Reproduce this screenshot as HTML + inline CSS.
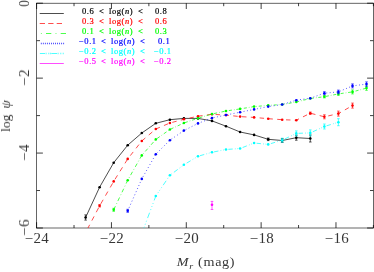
<!DOCTYPE html><html><head><meta charset="utf-8"><style>
html,body{margin:0;padding:0;background:#fff}
body{width:374px;height:272px;position:relative;overflow:hidden;font-family:"Liberation Serif",serif;color:#363636}
.t{position:absolute;white-space:pre;line-height:1;will-change:transform}
.xl{font-size:14px;letter-spacing:0.2px;transform:translateX(-50%) scaleX(1.07);top:231.8px;margin-left:0.6px}
.yl{font-size:14px;letter-spacing:0.2px;transform-origin:0 0;transform:rotate(-90deg) translateX(-50%) scaleX(1.07);left:18.0px}
.lg{font-size:8.5px;letter-spacing:0.55px;-webkit-text-stroke:0.2px currentColor}
i{font-style:italic}

</style></head><body>
<svg width="374" height="272" viewBox="0 0 374 272" style="position:absolute;left:0;top:0">
<defs><clipPath id="c"><rect x="36.6" y="3.2" width="336.8" height="224.8"/></clipPath></defs>
<g stroke="#000" stroke-width="0.6" fill="none">
<rect x="36.6" y="3.2" width="336.79999999999995" height="224.8"/>
<path stroke-width="0.75" d="M36.60 228.0v-5.8M36.60 3.2v5.8"/>
<path stroke-width="0.75" d="M74.02 228.0v-3.0M74.02 3.2v3.0"/>
<path stroke-width="0.75" d="M111.44 228.0v-5.8M111.44 3.2v5.8"/>
<path stroke-width="0.75" d="M148.87 228.0v-3.0M148.87 3.2v3.0"/>
<path stroke-width="0.75" d="M186.29 228.0v-5.8M186.29 3.2v5.8"/>
<path stroke-width="0.75" d="M223.71 228.0v-3.0M223.71 3.2v3.0"/>
<path stroke-width="0.75" d="M261.13 228.0v-5.8M261.13 3.2v5.8"/>
<path stroke-width="0.75" d="M298.56 228.0v-3.0M298.56 3.2v3.0"/>
<path stroke-width="0.75" d="M335.98 228.0v-5.8M335.98 3.2v5.8"/>
<path stroke-width="0.75" d="M373.40 228.0v-3.0M373.40 3.2v3.0"/>
<path stroke-width="0.75" d="M36.6 3.20h6.3M373.4 3.20h-6.3"/>
<path stroke-width="0.75" d="M36.6 40.67h3.4M373.4 40.67h-3.4"/>
<path stroke-width="0.75" d="M36.6 78.13h6.3M373.4 78.13h-6.3"/>
<path stroke-width="0.75" d="M36.6 115.60h3.4M373.4 115.60h-3.4"/>
<path stroke-width="0.75" d="M36.6 153.07h6.3M373.4 153.07h-6.3"/>
<path stroke-width="0.75" d="M36.6 190.53h3.4M373.4 190.53h-3.4"/>
<path stroke-width="0.75" d="M36.6 228.00h6.3M373.4 228.00h-6.3"/>
</g>
<g clip-path="url(#c)">
<polyline points="85.6,217.5 99.6,187.2 113.7,162.7 127.7,145.2 141.8,133.0 155.8,123.3 169.9,119.7 183.9,118.4 198.0,118.4 212.0,120.9 226.0,126.2 240.1,132.0 254.1,134.9 268.2,139.3 282.2,140.5 296.3,137.7 310.3,138.5" fill="none" stroke="#000000" stroke-width="0.7"/>
<circle cx="85.6" cy="217.5" r="1.3" fill="#000000"/>
<circle cx="99.6" cy="187.2" r="1.3" fill="#000000"/>
<circle cx="113.7" cy="162.7" r="1.3" fill="#000000"/>
<circle cx="127.7" cy="145.2" r="1.3" fill="#000000"/>
<circle cx="141.8" cy="133.0" r="1.3" fill="#000000"/>
<circle cx="155.8" cy="123.3" r="1.3" fill="#000000"/>
<circle cx="169.9" cy="119.7" r="1.3" fill="#000000"/>
<circle cx="183.9" cy="118.4" r="1.3" fill="#000000"/>
<circle cx="198.0" cy="118.4" r="1.3" fill="#000000"/>
<circle cx="212.0" cy="120.9" r="1.3" fill="#000000"/>
<circle cx="226.0" cy="126.2" r="1.3" fill="#000000"/>
<circle cx="240.1" cy="132.0" r="1.3" fill="#000000"/>
<circle cx="254.1" cy="134.9" r="1.3" fill="#000000"/>
<circle cx="268.2" cy="139.3" r="1.3" fill="#000000"/>
<circle cx="282.2" cy="140.5" r="1.3" fill="#000000"/>
<circle cx="296.3" cy="137.7" r="1.3" fill="#000000"/>
<circle cx="310.3" cy="138.5" r="1.3" fill="#000000"/>
<path d="M85.6 214.9V220.1M84.3 214.9h2.6M84.3 220.1h2.6" stroke="#000000" stroke-width="0.65" fill="none"/>
<path d="M268.2 138.0V140.6M266.9 138.0h2.6M266.9 140.6h2.6" stroke="#000000" stroke-width="0.65" fill="none"/>
<path d="M282.2 138.5V142.5M280.9 138.5h2.6M280.9 142.5h2.6" stroke="#000000" stroke-width="0.65" fill="none"/>
<path d="M296.3 135.2V140.2M295.0 135.2h2.6M295.0 140.2h2.6" stroke="#000000" stroke-width="0.65" fill="none"/>
<path d="M310.3 135.0V142.0M309.0 135.0h2.6M309.0 142.0h2.6" stroke="#000000" stroke-width="0.65" fill="none"/>
<path d="M87.43 229.02L89.66 224.78M91.85 220.62L94.08 216.38M96.26 212.23L98.49 207.99M100.75 203.88L103.13 199.74M105.47 195.68L107.85 191.54M110.19 187.49L112.57 183.35M114.97 179.34L117.49 175.30M119.96 171.35L122.49 167.31M124.96 163.35L127.48 159.31M130.29 155.64L133.20 151.94M136.05 148.30L138.96 144.59M141.82 140.97L145.34 137.96M148.78 135.02L152.30 132.01M155.75 129.07L155.82 129.00M155.82 129.00L159.89 127.27M163.95 125.53L168.11 123.75M172.27 122.37L176.61 121.23M180.85 120.11L183.91 119.30M183.91 119.30L185.19 119.02M189.47 118.07L193.84 117.11M198.12 116.18L202.54 115.58M206.87 114.99L211.29 114.40M215.64 114.51L220.09 114.76M224.45 115.01L226.05 115.10M226.05 115.10L228.89 115.40M233.23 115.87L237.67 116.34M242.02 116.71L246.47 116.96M250.82 117.21L254.14 117.40M254.14 117.40L255.27 117.50M259.62 117.91L264.06 118.32M268.40 118.72L272.85 119.03M277.20 119.34L281.65 119.66M286.01 119.83L290.46 119.99M294.82 120.15L296.27 120.20M296.27 120.20L299.01 118.84M302.98 116.86L307.04 114.83M311.07 113.39L315.40 114.50M319.65 115.59L323.99 116.70M328.26 115.91L332.62 114.92M336.90 113.94L338.41 113.60M338.41 113.60L340.99 112.13M344.87 109.92L348.82 107.67" fill="none" stroke="#ff0000" stroke-width="0.7"/>
<circle cx="99.6" cy="205.8" r="1.3" fill="#ff0000"/>
<circle cx="113.7" cy="181.4" r="1.3" fill="#ff0000"/>
<circle cx="127.7" cy="158.9" r="1.3" fill="#ff0000"/>
<circle cx="141.8" cy="141.0" r="1.3" fill="#ff0000"/>
<circle cx="155.8" cy="129.0" r="1.3" fill="#ff0000"/>
<circle cx="169.9" cy="123.0" r="1.3" fill="#ff0000"/>
<circle cx="183.9" cy="119.3" r="1.3" fill="#ff0000"/>
<circle cx="198.0" cy="116.2" r="1.3" fill="#ff0000"/>
<circle cx="212.0" cy="114.3" r="1.3" fill="#ff0000"/>
<circle cx="226.0" cy="115.1" r="1.3" fill="#ff0000"/>
<circle cx="240.1" cy="116.6" r="1.3" fill="#ff0000"/>
<circle cx="254.1" cy="117.4" r="1.3" fill="#ff0000"/>
<circle cx="268.2" cy="118.7" r="1.3" fill="#ff0000"/>
<circle cx="282.2" cy="119.7" r="1.3" fill="#ff0000"/>
<circle cx="296.3" cy="120.2" r="1.3" fill="#ff0000"/>
<circle cx="310.3" cy="113.2" r="1.3" fill="#ff0000"/>
<circle cx="324.4" cy="116.8" r="1.3" fill="#ff0000"/>
<circle cx="338.4" cy="113.6" r="1.3" fill="#ff0000"/>
<circle cx="352.5" cy="105.6" r="1.3" fill="#ff0000"/>
<path d="M99.6 204.6V207.0M98.3 204.6h2.6M98.3 207.0h2.6" stroke="#ff0000" stroke-width="0.65" fill="none"/>
<path d="M310.3 112.0V114.4M309.0 112.0h2.6M309.0 114.4h2.6" stroke="#ff0000" stroke-width="0.65" fill="none"/>
<path d="M324.4 114.8V118.8M323.1 114.8h2.6M323.1 118.8h2.6" stroke="#ff0000" stroke-width="0.65" fill="none"/>
<path d="M338.4 111.1V116.1M337.1 111.1h2.6M337.1 116.1h2.6" stroke="#ff0000" stroke-width="0.65" fill="none"/>
<path d="M352.5 103.1V108.1M351.2 103.1h2.6M351.2 108.1h2.6" stroke="#ff0000" stroke-width="0.65" fill="none"/>
<path d="M113.69 209.80L115.39 206.22M116.50 203.89L116.81 203.22M117.84 201.05L119.54 197.47M120.65 195.14L120.96 194.47M121.99 192.31L123.69 188.73M124.80 186.39L125.11 185.73M126.14 183.56L127.73 180.20M127.73 180.20L127.85 179.99M129.09 177.80L129.45 177.17M130.60 175.13L132.51 171.77M133.75 169.57L134.11 168.94M135.26 166.91L137.17 163.54M138.41 161.34L138.77 160.72M139.92 158.68L141.78 155.40M141.78 155.40L141.84 155.33M143.40 153.56L143.84 153.06M145.28 151.41L147.66 148.70M149.21 146.93L149.66 146.43M151.10 144.79L153.48 142.07M155.03 140.31L155.47 139.80M157.08 138.52L159.82 136.58M161.61 135.32L162.12 134.96M163.78 133.79L166.52 131.86M168.31 130.60L168.82 130.24M170.51 129.20L173.43 127.85M175.33 126.97L175.87 126.72M177.64 125.91L180.55 124.56M182.45 123.68L182.99 123.43M184.78 122.71L187.76 121.69M189.70 121.02L190.26 120.83M192.06 120.22L195.05 119.20M196.99 118.53L197.54 118.34M199.36 117.78L202.36 116.88M204.32 116.30L204.88 116.13M206.69 115.59L209.70 114.69M211.65 114.11L212.00 114.00M212.00 114.00L212.21 113.96M214.05 113.56L217.08 112.92M219.06 112.49L219.63 112.37M221.46 111.98L224.50 111.33M226.48 110.94L227.05 110.85M228.89 110.57L231.95 110.12M233.94 109.82L234.50 109.74M236.35 109.46L239.40 109.00M241.39 108.69L241.96 108.59M243.80 108.29L246.85 107.79M248.84 107.47L249.41 107.37M251.25 107.07L254.14 106.60M254.14 106.60L254.30 106.59M256.30 106.42L256.87 106.37M258.73 106.21L261.79 105.95M263.79 105.78L264.36 105.73M266.21 105.57L268.19 105.40M268.19 105.40L269.28 105.33M271.28 105.20L271.85 105.17M273.70 105.05L276.77 104.85M278.77 104.72L279.34 104.69M281.19 104.57L282.23 104.50M282.23 104.50L284.25 104.14M286.23 103.79L286.80 103.69M288.64 103.36L291.69 102.82M293.67 102.46L294.24 102.36M296.08 102.03L296.27 102.00M296.27 102.00L299.11 101.29M301.08 100.80L301.64 100.66M303.47 100.21L306.49 99.45M308.46 98.96L309.02 98.82M310.86 98.43L313.92 98.04M315.91 97.78L316.48 97.71M318.33 97.47L321.38 97.08M323.38 96.83L323.94 96.75M325.79 96.42L328.83 95.81M330.81 95.42L331.37 95.30M333.21 94.94L336.25 94.33M338.23 93.94L338.41 93.90M338.41 93.90L338.80 93.84M340.65 93.58L343.70 93.15M345.69 92.86L346.26 92.78M348.11 92.52L351.16 92.08M353.14 91.71L353.71 91.56M355.53 91.07L358.54 90.25M360.51 89.72L361.07 89.57M362.89 89.08L365.91 88.26" fill="none" stroke="#00ff00" stroke-width="0.7"/>
<circle cx="113.7" cy="209.8" r="1.3" fill="#00ff00"/>
<circle cx="127.7" cy="180.2" r="1.3" fill="#00ff00"/>
<circle cx="141.8" cy="155.4" r="1.3" fill="#00ff00"/>
<circle cx="155.8" cy="139.4" r="1.3" fill="#00ff00"/>
<circle cx="169.9" cy="129.5" r="1.3" fill="#00ff00"/>
<circle cx="183.9" cy="123.0" r="1.3" fill="#00ff00"/>
<circle cx="198.0" cy="118.2" r="1.3" fill="#00ff00"/>
<circle cx="212.0" cy="114.0" r="1.3" fill="#00ff00"/>
<circle cx="226.0" cy="111.0" r="1.3" fill="#00ff00"/>
<circle cx="240.1" cy="108.9" r="1.3" fill="#00ff00"/>
<circle cx="254.1" cy="106.6" r="1.3" fill="#00ff00"/>
<circle cx="268.2" cy="105.4" r="1.3" fill="#00ff00"/>
<circle cx="282.2" cy="104.5" r="1.3" fill="#00ff00"/>
<circle cx="296.3" cy="102.0" r="1.3" fill="#00ff00"/>
<circle cx="310.3" cy="98.5" r="1.3" fill="#00ff00"/>
<circle cx="324.4" cy="96.7" r="1.3" fill="#00ff00"/>
<circle cx="338.4" cy="93.9" r="1.3" fill="#00ff00"/>
<circle cx="352.5" cy="91.9" r="1.3" fill="#00ff00"/>
<circle cx="366.5" cy="88.1" r="1.3" fill="#00ff00"/>
<path d="M113.7 208.3V211.3M112.4 208.3h2.6M112.4 211.3h2.6" stroke="#00ff00" stroke-width="0.65" fill="none"/>
<path d="M324.4 95.5V97.9M323.1 95.5h2.6M323.1 97.9h2.6" stroke="#00ff00" stroke-width="0.65" fill="none"/>
<path d="M338.4 92.4V95.4M337.1 92.4h2.6M337.1 95.4h2.6" stroke="#00ff00" stroke-width="0.65" fill="none"/>
<path d="M352.5 89.9V93.9M351.2 89.9h2.6M351.2 93.9h2.6" stroke="#00ff00" stroke-width="0.65" fill="none"/>
<path d="M366.5 85.9V90.3M365.2 85.9h2.6M365.2 90.3h2.6" stroke="#00ff00" stroke-width="0.65" fill="none"/>
<path d="M127.73 210.80L128.10 209.98M129.11 207.69L129.47 206.86M130.48 204.58L130.84 203.75M131.85 201.46L132.21 200.64M133.22 198.35L133.58 197.53M134.59 195.24L134.95 194.42M135.96 192.13L136.32 191.31M137.33 189.02L137.69 188.19M138.70 185.91L139.06 185.08M140.07 182.79L140.43 181.97M141.44 179.68L141.78 178.90M141.78 178.90L141.80 178.86M143.04 176.69L143.48 175.91M144.72 173.73L145.16 172.95M146.40 170.78L146.84 169.99M148.08 167.82L148.52 167.04M149.76 164.87L150.21 164.08M151.44 161.91L151.89 161.13M153.12 158.95L153.57 158.17M154.80 156.00L155.25 155.22M156.77 153.26L157.41 152.62M159.18 150.86L159.81 150.22M161.58 148.46L162.22 147.82M163.99 146.06L164.63 145.42M166.40 143.66L167.04 143.02M168.81 141.26L169.45 140.62M171.44 139.13L172.18 138.62M174.25 137.21L174.99 136.70M177.05 135.29L177.80 134.78M179.86 133.37L180.60 132.86M182.67 131.45L183.41 130.95M185.59 129.74L186.40 129.33M188.62 128.19L189.42 127.78M191.65 126.64L192.45 126.23M194.67 125.09L195.47 124.68M197.70 123.53L197.96 123.40M197.96 123.40L198.52 123.18M200.86 122.29L201.70 121.96M204.03 121.07L204.87 120.74M207.21 119.85L208.05 119.52M210.38 118.63L211.22 118.30M213.63 117.65L214.51 117.47M216.95 116.94L217.83 116.76M220.28 116.23L221.16 116.05M223.60 115.52L224.48 115.34M226.93 114.82L227.81 114.65M230.26 114.16L231.15 113.98M233.60 113.50L234.48 113.32M236.93 112.83L237.81 112.65M240.27 112.17L241.15 111.99M243.60 111.50L244.48 111.33M246.93 110.84L247.82 110.66M250.27 110.17L251.15 110.00M253.60 109.51L254.14 109.40M254.14 109.40L254.49 109.33M256.94 108.84L257.82 108.67M260.27 108.18L261.15 108.00M263.61 107.51L264.49 107.34M266.94 106.85L267.82 106.67M270.29 106.28L271.18 106.15M273.66 105.78L274.55 105.65M277.02 105.28L277.91 105.15M280.38 104.78L281.27 104.64M283.69 104.05L284.55 103.79M286.94 103.06L287.80 102.79M290.20 102.06L291.06 101.80M293.45 101.07L294.31 100.80M296.71 100.14L297.60 100.01M300.08 99.66L300.97 99.53M303.44 99.18L304.34 99.05M306.81 98.70L307.70 98.57M310.18 98.22L310.32 98.20M310.32 98.20L311.03 97.95M313.39 97.11L314.23 96.81M316.59 95.97L317.44 95.67M319.79 94.83L320.64 94.53M323.00 93.69L323.84 93.39M326.30 93.02L327.20 92.94M329.69 92.71L330.59 92.62M333.07 92.39L333.97 92.31M336.46 92.08L337.36 92.00M339.74 91.33L340.56 90.98M342.86 90.00L343.69 89.64M345.99 88.66L346.82 88.31M349.12 87.33L349.94 86.97M352.24 85.99L352.46 85.90M352.46 85.90L353.12 85.81M355.60 85.50L356.49 85.38M358.97 85.06L359.86 84.95M362.34 84.63L363.24 84.52M365.72 84.20L366.50 84.10" fill="none" stroke="#0000ff" stroke-width="0.7"/>
<circle cx="127.7" cy="210.8" r="1.3" fill="#0000ff"/>
<circle cx="141.8" cy="178.9" r="1.3" fill="#0000ff"/>
<circle cx="155.8" cy="154.2" r="1.3" fill="#0000ff"/>
<circle cx="169.9" cy="140.2" r="1.3" fill="#0000ff"/>
<circle cx="183.9" cy="130.6" r="1.3" fill="#0000ff"/>
<circle cx="198.0" cy="123.4" r="1.3" fill="#0000ff"/>
<circle cx="212.0" cy="118.0" r="1.3" fill="#0000ff"/>
<circle cx="226.0" cy="115.0" r="1.3" fill="#0000ff"/>
<circle cx="240.1" cy="112.2" r="1.3" fill="#0000ff"/>
<circle cx="254.1" cy="109.4" r="1.3" fill="#0000ff"/>
<circle cx="268.2" cy="106.6" r="1.3" fill="#0000ff"/>
<circle cx="282.2" cy="104.5" r="1.3" fill="#0000ff"/>
<circle cx="296.3" cy="100.2" r="1.3" fill="#0000ff"/>
<circle cx="310.3" cy="98.2" r="1.3" fill="#0000ff"/>
<circle cx="324.4" cy="93.2" r="1.3" fill="#0000ff"/>
<circle cx="338.4" cy="91.9" r="1.3" fill="#0000ff"/>
<circle cx="352.5" cy="85.9" r="1.3" fill="#0000ff"/>
<circle cx="366.5" cy="84.1" r="1.3" fill="#0000ff"/>
<path d="M127.7 209.3V212.3M126.4 209.3h2.6M126.4 212.3h2.6" stroke="#0000ff" stroke-width="0.65" fill="none"/>
<path d="M324.4 91.7V94.7M323.1 91.7h2.6M323.1 94.7h2.6" stroke="#0000ff" stroke-width="0.65" fill="none"/>
<path d="M338.4 90.1V93.7M337.1 90.1h2.6M337.1 93.7h2.6" stroke="#0000ff" stroke-width="0.65" fill="none"/>
<path d="M352.5 83.9V87.9M351.2 83.9h2.6M351.2 87.9h2.6" stroke="#0000ff" stroke-width="0.65" fill="none"/>
<path d="M366.5 81.9V86.3M365.2 81.9h2.6M365.2 86.3h2.6" stroke="#0000ff" stroke-width="0.65" fill="none"/>
<path d="M141.78 233.60L143.00 230.34M144.00 227.67L144.33 226.78M145.13 224.64L145.46 223.75M146.26 221.62L146.59 220.73M147.58 218.06L149.58 212.72M150.58 210.05L150.91 209.17M151.70 207.03L152.04 206.14M152.83 204.01L153.17 203.12M154.16 200.45L155.82 196.00M155.82 196.00L156.32 195.27M157.81 193.08L158.31 192.34M159.50 190.59L159.99 189.86M161.18 188.10L161.68 187.37M163.17 185.18L166.14 180.79M167.63 178.60L168.13 177.87M169.32 176.11L169.82 175.38M171.33 174.21L171.97 173.73M173.89 172.30L177.72 169.43M179.64 168.00L180.28 167.52M181.81 166.37L182.45 165.89M183.99 164.76L184.65 164.35M186.65 163.14L190.64 160.73M192.64 159.52L193.31 159.12M194.90 158.15L195.57 157.75M197.17 156.78L197.83 156.38M199.96 155.73L204.23 154.51M206.37 153.90L207.08 153.70M208.79 153.22L209.50 153.01M211.21 152.53L211.92 152.32M214.08 151.89L218.40 151.02M220.56 150.59L221.28 150.45M223.01 150.11L223.73 149.96M225.45 149.62L226.05 149.50M226.05 149.50L226.18 149.49M228.35 149.34L232.71 149.03M234.89 148.87L235.62 148.82M237.36 148.69L238.09 148.64M239.83 148.52L240.09 148.50M240.09 148.50L240.54 148.33M242.64 147.50L246.83 145.86M248.93 145.04L249.63 144.77M251.31 144.11L252.01 143.83M253.69 143.18L254.14 143.00M254.14 143.00L254.40 143.03M256.57 143.24L260.93 143.68M263.10 143.89L263.83 143.97M265.57 144.14L266.29 144.21M268.03 144.39L268.19 144.40M268.19 144.40L268.75 144.23M270.88 143.59L275.14 142.32M277.28 141.68L277.99 141.47M279.69 140.96L280.40 140.75M282.11 140.24L282.23 140.20M282.23 140.20L282.80 139.92M284.86 138.93L288.97 136.94M291.03 135.94L291.72 135.61M293.36 134.81L294.05 134.48M295.70 133.68L296.27 133.40M296.27 133.40L296.39 133.40M298.57 133.32L302.93 133.16M305.11 133.09L305.84 133.06M307.58 133.00L308.31 132.97M310.06 132.91L310.32 132.90M310.32 132.90L310.76 132.70M312.83 131.76L316.97 129.87M319.04 128.92L319.73 128.61M321.39 127.86L322.08 127.54M323.74 126.79L324.37 126.50M324.37 126.50L324.43 126.48M326.56 125.83L330.82 124.52M332.95 123.87L333.66 123.65M335.36 123.13L336.07 122.92M337.78 122.39L338.41 122.20" fill="none" stroke="#00ffff" stroke-width="0.7"/>
<circle cx="155.8" cy="196.0" r="1.3" fill="#00ffff"/>
<circle cx="169.9" cy="175.3" r="1.3" fill="#00ffff"/>
<circle cx="183.9" cy="164.8" r="1.3" fill="#00ffff"/>
<circle cx="198.0" cy="156.3" r="1.3" fill="#00ffff"/>
<circle cx="212.0" cy="152.3" r="1.3" fill="#00ffff"/>
<circle cx="226.0" cy="149.5" r="1.3" fill="#00ffff"/>
<circle cx="240.1" cy="148.5" r="1.3" fill="#00ffff"/>
<circle cx="254.1" cy="143.0" r="1.3" fill="#00ffff"/>
<circle cx="268.2" cy="144.4" r="1.3" fill="#00ffff"/>
<circle cx="282.2" cy="140.2" r="1.3" fill="#00ffff"/>
<circle cx="296.3" cy="133.4" r="1.3" fill="#00ffff"/>
<circle cx="310.3" cy="132.9" r="1.3" fill="#00ffff"/>
<circle cx="324.4" cy="126.5" r="1.3" fill="#00ffff"/>
<circle cx="338.4" cy="122.2" r="1.3" fill="#00ffff"/>
<path d="M282.2 138.2V142.2M280.9 138.2h2.6M280.9 142.2h2.6" stroke="#00ffff" stroke-width="0.65" fill="none"/>
<path d="M296.3 130.9V135.9M295.0 130.9h2.6M295.0 135.9h2.6" stroke="#00ffff" stroke-width="0.65" fill="none"/>
<path d="M310.3 129.9V135.9M309.0 129.9h2.6M309.0 135.9h2.6" stroke="#00ffff" stroke-width="0.65" fill="none"/>
<path d="M324.4 124.0V129.0M323.1 124.0h2.6M323.1 129.0h2.6" stroke="#00ffff" stroke-width="0.65" fill="none"/>
<path d="M338.4 118.7V125.7M337.1 118.7h2.6M337.1 125.7h2.6" stroke="#00ffff" stroke-width="0.65" fill="none"/>
<circle cx="212.0" cy="204.8" r="1.3" fill="#ff00ff"/>
<path d="M212.0 201.4V209.5M210.7 201.4h2.6M210.7 209.5h2.6" stroke="#ff00ff" stroke-width="0.65" fill="none"/>
</g>
<path d="M39.7 13.5H63.8" stroke="#000000" stroke-width="0.7" fill="none"/>
<path d="M39.7 23.5H63.8" stroke="#ff0000" stroke-width="0.7" fill="none" stroke-dasharray="5.3 3.2"/>
<path d="M40.9 33.5H66.5" stroke="#00ff00" stroke-width="0.7" fill="none" stroke-dasharray="0.8 4.3 5.3 4.3"/>
<rect x="40.85" y="42.75" width="0.9" height="1.5" fill="#0000ff" opacity="0.75"/>
<rect x="42.88" y="42.75" width="0.9" height="1.5" fill="#0000ff" opacity="0.75"/>
<rect x="44.91" y="42.75" width="0.9" height="1.5" fill="#0000ff" opacity="0.75"/>
<rect x="46.94" y="42.75" width="0.9" height="1.5" fill="#0000ff" opacity="0.75"/>
<rect x="48.97" y="42.75" width="0.9" height="1.5" fill="#0000ff" opacity="0.75"/>
<rect x="51.00" y="42.75" width="0.9" height="1.5" fill="#0000ff" opacity="0.75"/>
<rect x="53.03" y="42.75" width="0.9" height="1.5" fill="#0000ff" opacity="0.75"/>
<rect x="55.06" y="42.75" width="0.9" height="1.5" fill="#0000ff" opacity="0.75"/>
<rect x="57.09" y="42.75" width="0.9" height="1.5" fill="#0000ff" opacity="0.75"/>
<rect x="59.12" y="42.75" width="0.9" height="1.5" fill="#0000ff" opacity="0.75"/>
<rect x="61.15" y="42.75" width="0.9" height="1.5" fill="#0000ff" opacity="0.75"/>
<rect x="63.18" y="42.75" width="0.9" height="1.5" fill="#0000ff" opacity="0.75"/>
<path d="M39.85 53.5H45M51.4 53.5H57" stroke="#00ffff" stroke-width="0.7" fill="none"/>
<rect x="45.65" y="52.75" width="0.9" height="1.5" fill="#00ffff" opacity="0.75"/>
<rect x="48.35" y="52.75" width="0.9" height="1.5" fill="#00ffff" opacity="0.75"/>
<rect x="50.25" y="52.75" width="0.9" height="1.5" fill="#00ffff" opacity="0.75"/>
<rect x="57.65" y="52.75" width="0.9" height="1.5" fill="#00ffff" opacity="0.75"/>
<rect x="60.35" y="52.75" width="0.9" height="1.5" fill="#00ffff" opacity="0.75"/>
<rect x="62.75" y="52.75" width="0.9" height="1.5" fill="#00ffff" opacity="0.75"/>
<path d="M39.7 63.5H63.8" stroke="#ff00ff" stroke-width="0.7" fill="none"/>
</svg>
<div class="t xl" style="left:36.6px">−24</div>
<div class="t xl" style="left:111.4px">−22</div>
<div class="t xl" style="left:186.3px">−20</div>
<div class="t xl" style="left:261.1px">−18</div>
<div class="t xl" style="left:336.0px">−16</div>
<div class="t yl" style="top:3.1px;transform:rotate(-90deg) translateX(-50%) scaleX(0.9)">0</div>
<div class="t yl" style="top:78.1px">−2</div>
<div class="t yl" style="top:153.1px">−4</div>
<div class="t yl" style="top:228.0px">−6</div>
<div class="t" style="font-size:13.5px;transform-origin:0 0;transform:rotate(-90deg) translateX(-50%);top:116.2px;left:-0.6px;word-spacing:2.6px">log <i>ψ</i></div>
<div class="t" style="font-size:12.5px;left:205.8px;top:255.8px;transform:translateX(-50%) scaleX(1.13);letter-spacing:0.6px"><i>M<span style="font-size:9px;position:relative;top:3px">r</span></i> (mag)</div>
<div class="t lg" style="color:#000000;top:6.58px;left:82.0px;">0.6</div>
<div class="t lg" style="color:#000000;top:6.58px;left:98.9px;">&lt;</div>
<div class="t lg" style="color:#000000;top:6.58px;left:108.8px;">log(<i>n</i>)</div>
<div class="t lg" style="color:#000000;top:6.58px;left:137.6px;">&lt;</div>
<div class="t lg" style="color:#000000;top:6.58px;left:155.2px;">0.8</div>
<div class="t lg" style="color:#ff0000;top:16.58px;left:82.0px;">0.3</div>
<div class="t lg" style="color:#ff0000;top:16.58px;left:98.9px;">&lt;</div>
<div class="t lg" style="color:#ff0000;top:16.58px;left:108.8px;">log(<i>n</i>)</div>
<div class="t lg" style="color:#ff0000;top:16.58px;left:137.6px;">&lt;</div>
<div class="t lg" style="color:#ff0000;top:16.58px;left:155.2px;">0.6</div>
<div class="t lg" style="color:#00ff00;top:26.58px;left:82.0px;">0.1</div>
<div class="t lg" style="color:#00ff00;top:26.58px;left:98.9px;">&lt;</div>
<div class="t lg" style="color:#00ff00;top:26.58px;left:108.8px;">log(<i>n</i>)</div>
<div class="t lg" style="color:#00ff00;top:26.58px;left:137.6px;">&lt;</div>
<div class="t lg" style="color:#00ff00;top:26.58px;left:155.2px;">0.3</div>
<div class="t lg" style="color:#0000ff;top:36.58px;left:78.6px;">−0.1</div>
<div class="t lg" style="color:#0000ff;top:36.58px;left:101.3px;">&lt;</div>
<div class="t lg" style="color:#0000ff;top:36.58px;left:111.2px;">log(<i>n</i>)</div>
<div class="t lg" style="color:#0000ff;top:36.58px;left:140.0px;">&lt;</div>
<div class="t lg" style="color:#0000ff;top:36.58px;left:157.6px;">0.1</div>
<div class="t lg" style="color:#00ffff;top:46.58px;left:78.6px;">−0.2</div>
<div class="t lg" style="color:#00ffff;top:46.58px;left:101.3px;">&lt;</div>
<div class="t lg" style="color:#00ffff;top:46.58px;left:111.2px;">log(<i>n</i>)</div>
<div class="t lg" style="color:#00ffff;top:46.58px;left:140.0px;">&lt;</div>
<div class="t lg" style="color:#00ffff;top:46.58px;left:154.3px;">−0.1</div>
<div class="t lg" style="color:#ff00ff;top:56.58px;left:78.6px;">−0.5</div>
<div class="t lg" style="color:#ff00ff;top:56.58px;left:101.3px;">&lt;</div>
<div class="t lg" style="color:#ff00ff;top:56.58px;left:111.2px;">log(<i>n</i>)</div>
<div class="t lg" style="color:#ff00ff;top:56.58px;left:140.0px;">&lt;</div>
<div class="t lg" style="color:#ff00ff;top:56.58px;left:154.3px;">−0.2</div>
</body></html>
